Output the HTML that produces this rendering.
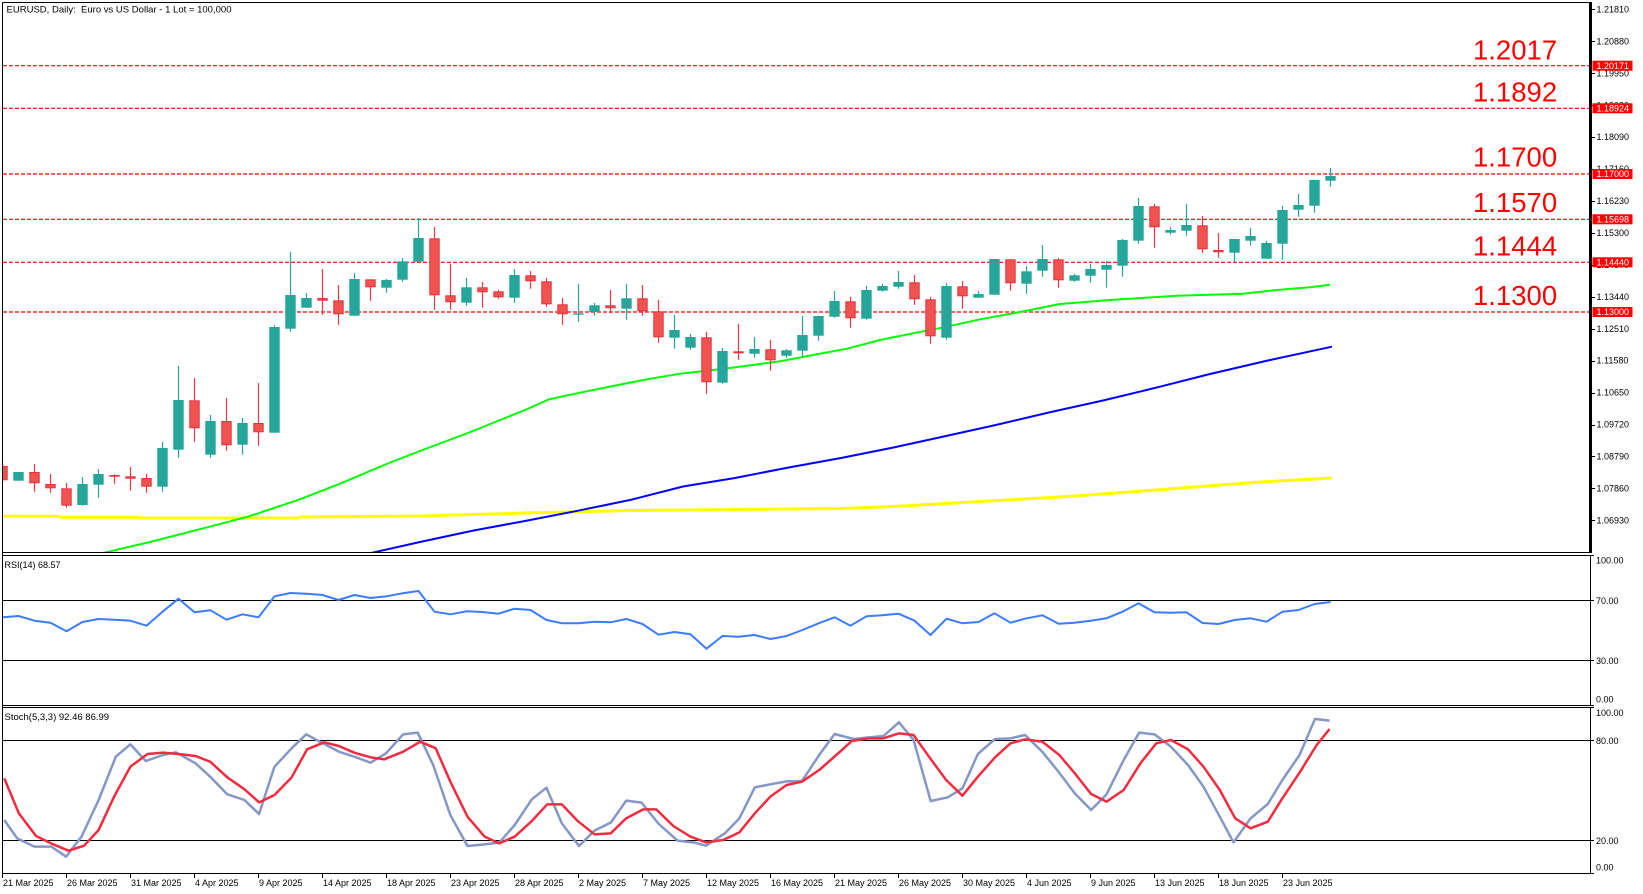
<!DOCTYPE html>
<html><head><meta charset="utf-8"><style>
html,body{margin:0;padding:0;background:#fff;}
svg{display:block;}
text{font-family:"Liberation Sans",Arial,sans-serif;}
.ax{font-size:9px;fill:#000;}
</style></head><body>
<svg width="1643" height="894" viewBox="0 0 1643 894" xmlns="http://www.w3.org/2000/svg">
<defs>
<clipPath id="cm"><rect x="3" y="3" width="1586" height="549"/></clipPath>
<clipPath id="cr"><rect x="3" y="556" width="1587" height="149"/></clipPath>
<clipPath id="cs"><rect x="3" y="708" width="1587" height="165"/></clipPath>
</defs>
<rect width="1643" height="894" fill="#fff"/>

<!-- title -->
<text x="6.5" y="12.7" style="white-space:pre;font-size:9.5px" textLength="225" lengthAdjust="spacingAndGlyphs">EURUSD, Daily:  Euro vs US Dollar - 1 Lot = 100,000</text>

<g clip-path="url(#cm)">
<!-- dashed levels -->
<g stroke="#FF0000" stroke-width="1.2" stroke-dasharray="4 2" fill="none">
<path d="M3 65.7H1589M3 108.3H1589M3 174H1589M3 219.3H1589M3 262.3H1589M3 312H1589"/>
</g>
<!-- MAs -->
<polyline fill="none" stroke="#FFFF00" stroke-width="3" points="0,516.3 58,516.3 60,517.3 138,517.3 140,518 298,518 300,517 420,516 525,513 630,510.5 735,509.5 841,508.5 893,506.5 946,503.5 998,500.5 1051,497.5 1103,494 1156,490 1208,486 1261,482 1332,478"/>
<polyline fill="none" stroke="#0000FF" stroke-width="2" points="360,556 368,553.7 420,542 473,530.6 525,521 578,510.7 630,500 683,486.5 735,478 788,467.6 841,458 893,447.6 946,436 998,424.5 1051,412 1103,400.5 1156,387.7 1208,374.5 1270,360 1332,346.7"/>
<polyline fill="none" stroke="#00FF00" stroke-width="2" points="90,556 150,542 198,529.7 248,516.7 300,499.3 340,483.7 389,463 420,451 473,431 525,410 549,399.3 580,392.7 613,386 647,379.3 680,373.7 713,370 747,365.7 780,361.3 813,355 847,348.7 880,340 913,333.3 947,326.7 980,319.3 1020,312 1060,304 1110,300 1177,295.7 1243,293.7 1277,290 1310,287.3 1330,284.7"/>
<!-- wicks -->
<path fill="none" stroke="#26A69A" stroke-width="1.2" d="M18.5 472V480.7 M82.5 477V505.7 M98.5 469V497.7 M162.5 442V491.7 M178.5 366V457.7 M210.5 415V457.7 M242.5 418V454.7 M274.5 325.3V432.7 M290.5 252V331.7 M306.5 293V307.7 M354.5 273V315.7 M386.5 279V292.7 M402.5 258V281.7 M418.5 218V261.7 M466.5 278V305.7 M514.5 269V302.7 M578.5 284V321.7 M594.5 303V315.7 M626.5 284V319.7 M674.5 315V348.7 M690.5 334V349.7 M722.5 348V383.7 M754.5 337V357.7 M786.5 349V357.7 M802.5 316V357 M818.5 316V340.7 M834.5 291V317.7 M866.5 286V319.7 M882.5 284V291.7 M898.5 271V288.7 M946.5 283V339.7 M978.5 291V297.7 M994.5 259V294.7 M1026.5 266V293.7 M1042.5 245V276.7 M1074.5 274V281.7 M1090.5 264V282.7 M1106.5 261V287.7 M1122.5 239V276.7 M1138.5 198V243.7 M1170.5 227V234.7 M1186.5 204V235.7 M1234.5 239V261.7 M1250.5 228V245.7 M1266.5 241V258.7 M1282.5 206V259.7 M1298.5 194V216.7 M1314.5 180V212.7 M1330.5 168V186.7"/>
<path fill="none" stroke="#F23645" stroke-width="1.2" d="M2.5 463V483 M34.5 464V491.7 M50.5 474V492.7 M66.5 483V507.7 M114.5 474.3V483.7 M130.5 467V490.7 M146.5 474V492.7 M194.5 378V441.7 M226.5 398V450.7 M258.5 383V445.7 M322.5 269V314.7 M338.5 285V324.7 M370.5 279.3V300.7 M434.5 227V309.7 M450.5 263.7V309.7 M482.5 282V307.7 M498.5 290V298.7 M530.5 271V288.7 M546.5 278V306.7 M562.5 298V324.7 M610.5 290V313.3 M642.5 285V315.7 M658.5 300V342.7 M706.5 332V393.7 M738.5 324V359.7 M770.5 340V370.7 M850.5 297V327.7 M914.5 275V304.7 M930.5 297V343.7 M962.5 281V308.7 M1010.5 259.3V290.7 M1058.5 258V287.7 M1154.5 204V247.7 M1202.5 216V252.7 M1218.5 233V257.7"/>
<!-- green bodies -->
<g fill="#26A69A">
<rect x="13.3" y="472" width="10.4" height="8.7"/>
<rect x="77.3" y="484" width="10.4" height="21"/>
<rect x="93.3" y="474" width="10.4" height="10.7"/>
<rect x="157.3" y="448" width="10.4" height="38.7"/>
<rect x="173.3" y="400" width="10.4" height="49.7"/>
<rect x="205.3" y="421" width="10.4" height="33.7"/>
<rect x="237.3" y="423" width="10.4" height="21.7"/>
<rect x="269.3" y="327" width="10.4" height="105.7"/>
<rect x="285.3" y="295" width="10.4" height="33.7"/>
<rect x="301.3" y="298" width="10.4" height="9.7"/>
<rect x="349.3" y="279" width="10.4" height="36.7"/>
<rect x="381.3" y="280" width="10.4" height="7.7"/>
<rect x="397.3" y="261.3" width="10.4" height="18.4"/>
<rect x="413.3" y="238" width="10.4" height="23.7"/>
<rect x="461.3" y="287.3" width="10.4" height="15.4"/>
<rect x="509.3" y="275" width="10.4" height="22.7"/>
<rect x="573.3" y="313.3" width="10.4" height="1.4"/>
<rect x="589.3" y="305.3" width="10.4" height="6.7"/>
<rect x="621.3" y="298.3" width="10.4" height="10.4"/>
<rect x="669.3" y="330" width="10.4" height="7.7"/>
<rect x="685.3" y="337" width="10.4" height="10.7"/>
<rect x="717.3" y="351" width="10.4" height="31.7"/>
<rect x="749.3" y="349" width="10.4" height="4.7"/>
<rect x="781.3" y="350.3" width="10.4" height="5.4"/>
<rect x="797.3" y="335" width="10.4" height="15.7"/>
<rect x="813.3" y="316" width="10.4" height="19.7"/>
<rect x="829.3" y="301" width="10.4" height="15.7"/>
<rect x="861.3" y="290" width="10.4" height="28.7"/>
<rect x="877.3" y="286" width="10.4" height="4.7"/>
<rect x="893.3" y="282" width="10.4" height="4.7"/>
<rect x="941.3" y="286" width="10.4" height="51.7"/>
<rect x="973.3" y="294" width="10.4" height="3.7"/>
<rect x="989.3" y="259" width="10.4" height="35.7"/>
<rect x="1021.3" y="271.3" width="10.4" height="12.4"/>
<rect x="1037.3" y="259" width="10.4" height="11.7"/>
<rect x="1069.3" y="275.3" width="10.4" height="5.4"/>
<rect x="1085.3" y="269" width="10.4" height="6.7"/>
<rect x="1101.3" y="265" width="10.4" height="4.7"/>
<rect x="1117.3" y="240" width="10.4" height="25.7"/>
<rect x="1133.3" y="206" width="10.4" height="34.7"/>
<rect x="1165.3" y="230" width="10.4" height="2.7"/>
<rect x="1181.3" y="225" width="10.4" height="5.7"/>
<rect x="1229.3" y="239" width="10.4" height="13.7"/>
<rect x="1245.3" y="236" width="10.4" height="4.7"/>
<rect x="1261.3" y="243" width="10.4" height="15.7"/>
<rect x="1277.3" y="210" width="10.4" height="33.7"/>
<rect x="1293.3" y="205" width="10.4" height="4.7"/>
<rect x="1309.3" y="180" width="10.4" height="25.7"/>
<rect x="1325.3" y="176" width="10.4" height="4.7"/>
</g>
<!-- red bodies -->
<g fill="#EF5350" stroke="#E8313F" stroke-width="1">
<rect x="-2.2" y="466.5" width="9.4" height="13.3"/>
<rect x="29.8" y="472.5" width="9.4" height="10.3"/>
<rect x="45.8" y="484.5" width="9.4" height="3.3"/>
<rect x="61.8" y="488.8" width="9.4" height="16.4"/>
<rect x="109.8" y="475.5" width="9.4" height="0.7"/>
<rect x="125.8" y="476.8" width="9.4" height="1.4"/>
<rect x="141.8" y="478.5" width="9.4" height="7.7"/>
<rect x="189.8" y="400.8" width="9.4" height="27"/>
<rect x="221.8" y="421.5" width="9.4" height="23.3"/>
<rect x="253.8" y="423.5" width="9.4" height="8.3"/>
<rect x="317.8" y="298.5" width="9.4" height="1.7"/>
<rect x="333.8" y="300.8" width="9.4" height="13"/>
<rect x="365.8" y="279.8" width="9.4" height="7"/>
<rect x="429.8" y="238.8" width="9.4" height="56"/>
<rect x="445.8" y="295.8" width="9.4" height="6"/>
<rect x="477.8" y="287.8" width="9.4" height="4"/>
<rect x="493.8" y="291.8" width="9.4" height="5"/>
<rect x="525.8" y="275.8" width="9.4" height="5"/>
<rect x="541.8" y="281.8" width="9.4" height="22"/>
<rect x="557.8" y="304.8" width="9.4" height="9"/>
<rect x="605.8" y="305.8" width="9.4" height="2"/>
<rect x="637.8" y="298.8" width="9.4" height="12"/>
<rect x="653.8" y="311.8" width="9.4" height="25"/>
<rect x="701.8" y="337.8" width="9.4" height="44"/>
<rect x="733.8" y="351.8" width="9.4" height="1"/>
<rect x="765.8" y="349.8" width="9.4" height="10"/>
<rect x="845.8" y="301.8" width="9.4" height="16"/>
<rect x="909.8" y="282.8" width="9.4" height="16"/>
<rect x="925.8" y="299.8" width="9.4" height="36"/>
<rect x="957.8" y="286.8" width="9.4" height="9"/>
<rect x="1005.8" y="259.8" width="9.4" height="23"/>
<rect x="1053.8" y="259.8" width="9.4" height="20"/>
<rect x="1149.8" y="206.8" width="9.4" height="20"/>
<rect x="1197.8" y="225.8" width="9.4" height="23"/>
<rect x="1213.8" y="250.5" width="9.4" height="1.3"/>
</g>
<!-- big labels -->
<g fill="#FF0000" style="font-size:27.5px">
<text x="1473" y="59.3">1.2017</text>
<text x="1473" y="101.7">1.1892</text>
<text x="1473" y="166.7">1.1700</text>
<text x="1473" y="212">1.1570</text>
<text x="1473" y="255.3">1.1444</text>
<text x="1473" y="305">1.1300</text>
</g>
</g>

<!-- RSI -->
<g clip-path="url(#cr)">
<path d="M3 600.5H1590M3 660.5H1590" stroke="#000" stroke-width="1"/>
<polyline fill="none" stroke="#3B7CFF" stroke-width="2" stroke-linejoin="round" points="2.5,617.3 18.5,616 34.5,620.7 50.5,622.7 66.5,631.3 82.5,622 98.5,619 114.5,619.7 130.5,620.7 146.5,625.7 162.5,611.7 178.5,598.7 194.5,612.3 210.5,610.3 226.5,619.7 242.5,614.3 258.5,617.3 274.5,596.3 290.5,593 306.5,593.7 322.5,595 338.5,600 354.5,595 370.5,598 386.5,596.3 402.5,593.3 418.5,591 434.5,611.7 450.5,614.3 466.5,611.3 482.5,612 498.5,613.7 514.5,608.7 530.5,610 546.5,620 562.5,623.3 578.5,623.3 594.5,621.7 610.5,622.3 626.5,619 642.5,624 658.5,634.7 674.5,632 690.5,634.3 706.5,648.7 722.5,636 738.5,636.7 754.5,635 770.5,639 786.5,636 802.5,630 818.5,623.3 834.5,617.3 850.5,625.7 866.5,616.3 882.5,615.3 898.5,613.7 914.5,620.7 930.5,635 946.5,618.7 962.5,623.3 978.5,622 994.5,613.3 1010.5,622.7 1026.5,618.3 1042.5,615.3 1058.5,623.7 1074.5,622.7 1090.5,620.7 1106.5,618.3 1122.5,611.7 1138.5,603.3 1154.5,612.3 1170.5,612.7 1186.5,612.3 1202.5,623 1218.5,624 1234.5,620 1250.5,618.3 1266.5,621.7 1282.5,611.7 1298.5,610 1314.5,604 1330.5,602"/>
</g>
<text x="4.5" y="568" style="font-size:9px">RSI(14) 68.57</text>

<!-- Stoch -->
<g clip-path="url(#cs)">
<path d="M3 740.5H1590M3 840.5H1590" stroke="#000" stroke-width="1"/>
<g transform="translate(0,700) scale(0.85778,0.333333)" fill="none" stroke-linejoin="round">
<polyline vector-effect="non-scaling-stroke" stroke="#8497C6" stroke-width="2.5" points="5,360 20,415 40,440 60,440 77,470 95,410 115,300 135,170 152,133 170,183 190,165 205,157 228,190 245,230 265,283 285,300 302,342 320,200 340,145 357,103 375,128 395,155 413,170 432,188 450,160 470,103 487,98 505,195 525,345 545,438 565,433 582,428 600,375 620,298 637,263 655,370 675,438 693,392 712,368 730,302 748,308 768,372 790,422 810,428 823,437 845,400 862,355 880,262 898,253 917,244 935,243 955,165 973,102 995,117 1010,113 1030,108 1048,67 1065,120 1085,303 1105,292 1122,265 1140,162 1160,117 1178,115 1195,105 1215,155 1233,212 1253,280 1272,330 1290,283 1310,180 1328,98 1346,103 1365,140 1385,195 1403,260 1422,350 1438,427 1458,355 1478,312 1495,240 1515,165 1533,57 1550,62"/>
<polyline vector-effect="non-scaling-stroke" stroke="#F02C40" stroke-width="2.5" points="5,235 22,340 42,408 62,433 80,452 98,437 115,390 133,290 152,200 172,162 190,158 208,162 228,168 245,185 265,232 285,268 302,307 320,285 340,232 358,148 378,127 395,138 413,158 432,172 448,178 470,155 490,125 508,145 525,245 545,350 565,410 582,430 600,410 620,363 638,313 655,313 673,362 693,403 712,400 730,355 750,328 765,328 785,378 805,410 823,427 843,420 862,397 880,340 898,290 917,255 935,245 955,210 975,165 993,123 1012,115 1030,115 1048,100 1065,105 1083,170 1103,240 1122,287 1140,230 1160,172 1178,130 1195,118 1215,125 1235,165 1253,220 1272,282 1290,305 1310,270 1330,188 1348,130 1365,120 1385,148 1403,200 1422,270 1440,355 1458,385 1478,365 1495,295 1515,218 1535,135 1550,87"/>
</g>
</g>
<text x="4.5" y="720" style="font-size:9.5px">Stoch(5,3,3) 92.46 86.99</text>

<!-- frames -->
<g fill="none" stroke="#000" stroke-width="1">
<path d="M2.5 2.5H1590.5M2.5 2.5V873.5M2.5 552.5H1590.5"/>
<rect x="2.5" y="555.5" width="1588" height="150"/>
<rect x="2.5" y="707.5" width="1588" height="166"/>
</g>
<rect x="1589" y="2" width="3" height="551" fill="#000"/>

<!-- right axis ticks -->
<path stroke="#000" stroke-width="1" d="M1591 9.5h4M1591 41.5h4M1591 73.5h4M1591 105.5h4M1591 137.5h4M1591 169.5h4M1591 201.5h4M1591 233.5h4M1591 265.5h4M1591 297.5h4M1591 329.5h4M1591 361.5h4M1591 393.5h4M1591 425.5h4M1591 456.5h4M1591 488.5h4M1591 520.5h4M1590 555.5h4M1590 600.5h4M1590 660.5h4M1590 705.5h4M1590 707.5h4M1590 740.5h4M1590 840.5h4M1590 873.5h4"/>
<g class="ax">
<text x="1596.5" y="12.5">1.21810</text>
<text x="1596.5" y="44.4">1.20880</text>
<text x="1596.5" y="76.4">1.19950</text>
<text x="1596.5" y="108.3">1.19020</text>
<text x="1596.5" y="140.2">1.18090</text>
<text x="1596.5" y="172.2">1.17160</text>
<text x="1596.5" y="204.1">1.16230</text>
<text x="1596.5" y="236">1.15300</text>
<text x="1596.5" y="267.9">1.14370</text>
<text x="1596.5" y="299.9">1.13440</text>
<text x="1596.5" y="331.8">1.12510</text>
<text x="1596.5" y="363.7">1.11580</text>
<text x="1596.5" y="395.7">1.10650</text>
<text x="1596.5" y="427.6">1.09720</text>
<text x="1596.5" y="459.5">1.08790</text>
<text x="1596.5" y="491.5">1.07860</text>
<text x="1596.5" y="523.4">1.06930</text>
<text x="1596" y="563.5">100.00</text>
<text x="1596" y="603.8">70.00</text>
<text x="1596" y="663.8">30.00</text>
<text x="1596" y="702.6">0.00</text>
<text x="1596" y="715.8">100.00</text>
<text x="1596" y="743.8">80.00</text>
<text x="1596" y="843.8">20.00</text>
<text x="1596" y="870.6">0.00</text>
</g>
<!-- price tags -->
<g fill="#FF0000">
<rect x="1592.5" y="60.7" width="40" height="10"/>
<rect x="1592.5" y="103.3" width="40" height="10"/>
<rect x="1592.5" y="169" width="40" height="10"/>
<rect x="1592.5" y="214.3" width="40" height="10"/>
<rect x="1592.5" y="257.3" width="40" height="10"/>
<rect x="1592.5" y="307" width="40" height="10"/>
</g>
<g class="ax" style="fill:#fff">
<text x="1596.5" y="68.9">1.20171</text>
<text x="1596.5" y="111.5">1.18924</text>
<text x="1596.5" y="177.2">1.17000</text>
<text x="1596.5" y="222.5">1.15698</text>
<text x="1596.5" y="265.5">1.14440</text>
<text x="1596.5" y="315.2">1.13000</text>
</g>

<!-- x axis -->
<path stroke="#000" stroke-width="1" d="M2.5 873V878M66.5 873V878M130.5 873V878M194.5 873V878M258.5 873V878M322.5 873V878M386.5 873V878M450.5 873V878M514.5 873V878M578.5 873V878M642.5 873V878M706.5 873V878M770.5 873V878M834.5 873V878M898.5 873V878M962.5 873V878M1026.5 873V878M1090.5 873V878M1154.5 873V878M1218.5 873V878M1282.5 873V878"/>
<g class="ax">
<text x="3" y="886">21 Mar 2025</text>
<text x="67" y="886">26 Mar 2025</text>
<text x="131" y="886">31 Mar 2025</text>
<text x="195" y="886">4 Apr 2025</text>
<text x="259" y="886">9 Apr 2025</text>
<text x="323" y="886">14 Apr 2025</text>
<text x="387" y="886">18 Apr 2025</text>
<text x="451" y="886">23 Apr 2025</text>
<text x="515" y="886">28 Apr 2025</text>
<text x="579" y="886">2 May 2025</text>
<text x="643" y="886">7 May 2025</text>
<text x="707" y="886">12 May 2025</text>
<text x="771" y="886">16 May 2025</text>
<text x="835" y="886">21 May 2025</text>
<text x="899" y="886">26 May 2025</text>
<text x="963" y="886">30 May 2025</text>
<text x="1027" y="886">4 Jun 2025</text>
<text x="1091" y="886">9 Jun 2025</text>
<text x="1155" y="886">13 Jun 2025</text>
<text x="1219" y="886">18 Jun 2025</text>
<text x="1283" y="886">23 Jun 2025</text>
</g>
</svg>
</body></html>
